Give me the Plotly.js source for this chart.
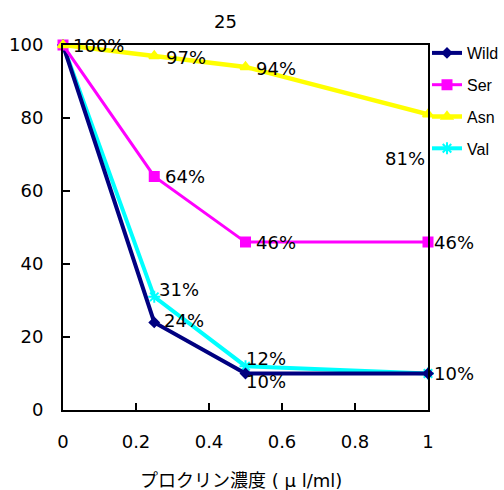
<!DOCTYPE html>
<html><head><meta charset="utf-8">
<script src="https://cdn.plot.ly/plotly-3.0.1.min.js"></script>
<style>html,body{margin:0;padding:0;background:#fff}#c{width:504px;height:490px}</style>
</head><body><div id="c"></div>
<script>
const concentrations = [0, 0.25, 0.5, 1];
const wild = [100, 24, 10, 10];
const ser = [100, 64, 46, 46];
const asn = [100, 97, 94, 81];
const val = [100, 31, 12, 10];
const seriesNames = ['Wild', 'Ser', 'Asn', 'Val'];
const xTicks = [0, 0.2, 0.4, 0.6, 0.8, 1];
const yTicks = [0, 20, 40, 60, 80, 100];

const FONT = '"DejaVu Sans", "Noto Sans CJK JP", sans-serif';
const LEGFONT = '"Liberation Sans", Arial, sans-serif';
const colors = ['#000080', '#FF00FF', '#FFFF00', '#00FFFF'];
const symbols = ['diamond', 'square', 'triangle-up', 'asterisk-open'];
const widths = [4, 3, 4.5, 4];
const msizes = [7, 9, 9, 10];
const allSeries = [wild, ser, asn, val];
const drawOrder = [3, 0, 1, 2];

const W = 504, H = 490, L = 63, PLOTW = 365, PLOTH = 365;
const paperW = W - L;
const px = p => (p - L) / paperW;

const traces = drawOrder.map(i => ({
  x: concentrations, y: allSeries[i], name: seriesNames[i], type: 'scatter', mode: 'lines+markers',
  legendrank: i + 1, legendgroup: seriesNames[i],
  line: {color: colors[i], width: widths[i]},
  marker: {symbol: symbols[i], color: colors[i], size: msizes[i], line: {color: colors[i], width: 2}},
  cliponaxis: false
}));
// label offsets (pixels) per series per point: [xshift, yshift]; null = no label
const labelOffsets = [
  [null, [8, 2], [-2, -8], null],         // Wild
  [[8, 0], [9, 0], [8, 0], [4, 0]],       // Ser
  [null, [10, -2], [8, -2], [-45, -44]],  // Asn
  [null, [3, 7], [-2, 8], [4, 0]]         // Val
];
const annotations = [];
allSeries.forEach((ys, i) => {
  ys.forEach((v, j) => {
    const o = labelOffsets[i][j];
    if (!o) return;
    annotations.push({x: concentrations[j], y: v, xref: 'x', yref: 'y', text: v + '%',
      showarrow: false, xanchor: 'left', yanchor: 'middle', xshift: o[0], yshift: o[1],
      font: {family: FONT, size: 18, color: '#000'}});
  });
});
annotations.push({x: px(225), y: 1, xref: 'paper', yref: 'paper', yanchor: 'bottom', yshift: 11,
  text: '25', showarrow: false, font: {family: FONT, size: 18, color: '#000'}});
annotations.push({x: px(241), y: 0, xref: 'paper', yref: 'paper', yanchor: 'top', yshift: -58,
  text: 'プロクリン濃度 ( μ l/ml)', showarrow: false, font: {family: FONT, size: 18, color: '#000'}});

const axisCommon = {showgrid: false, zeroline: false, showline: true, linecolor: '#000', linewidth: 2,
  mirror: true, ticks: 'inside', ticklen: 7, tickwidth: 1.5, tickcolor: '#000',
  tickfont: {family: FONT, size: 18, color: '#000'}};

const layout = {
  width: W, height: H,
  margin: {l: L, r: 0, t: 45, b: 80},
  paper_bgcolor: '#fff', plot_bgcolor: '#fff',
  showlegend: true,
  legend: {x: px(427), y: 1 + 9 / PLOTH, xanchor: 'left', yanchor: 'top', font: {family: LEGFONT, size: 16, color: '#000'},
    itemwidth: 30, traceorder: 'grouped', tracegroupgap: 8, bgcolor: 'rgba(0,0,0,0)'},
  xaxis: Object.assign({}, axisCommon, {domain: [0, PLOTW / paperW], range: [0, 1], tickvals: xTicks,
    ticktext: xTicks.map(String), ticklabelstandoff: 14}),
  yaxis: Object.assign({}, axisCommon, {range: [0, 100], tickvals: yTicks, ticktext: yTicks.map(String),
    ticklabelstandoff: 14}),
  annotations: annotations
};
Plotly.newPlot('c', traces, layout, {displayModeBar: false, staticPlot: true});
</script></body></html>
